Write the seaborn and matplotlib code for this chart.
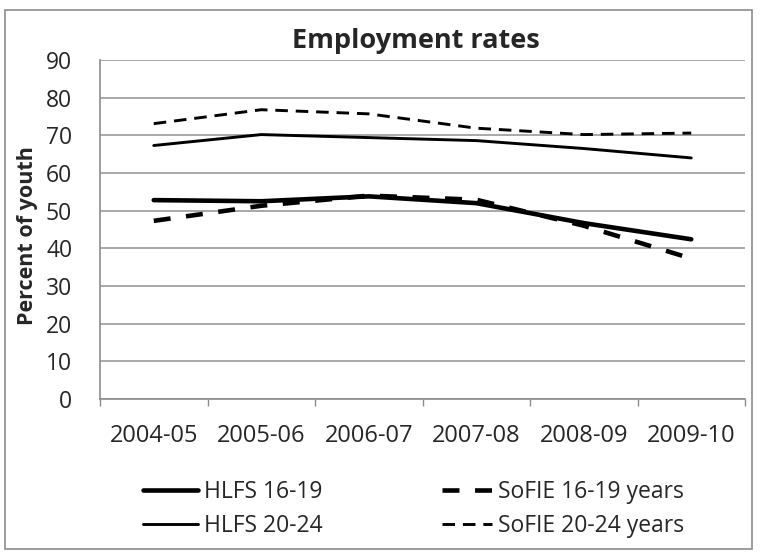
import matplotlib
matplotlib.use("Agg")
import matplotlib.pyplot as plt
import seaborn as sns
import numpy as np
from matplotlib.patches import Rectangle
from matplotlib.ticker import FixedLocator

categories = ["2004-05", "2005-06", "2006-07", "2007-08", "2008-09", "2009-10"]
hlfs_16_19 = [52.8, 52.5, 53.8, 52.0, 46.7, 42.4]
sofie_16_19 = [47.3, 51.3, 54.0, 52.9, 46.0, 37.3]
hlfs_20_24 = [67.3, 70.2, 69.4, 68.6, 66.5, 64.0]
sofie_20_24 = [73.1, 76.8, 75.7, 71.9, 70.2, 70.6]
y_ticks = [0, 10, 20, 30, 40, 50, 60, 70, 80, 90]

sns.set_theme(style="white")
plt.rcParams['font.family'] = ['Open Sans', 'DejaVu Sans']

W, H = 760, 553
fig = plt.figure(figsize=(W / 100, H / 100), dpi=100)
ax = fig.add_axes([100 / W, 1 - 399 / H, 645 / W, 339 / H])

x = np.arange(len(categories))
series = [
    ("HLFS 16-19", hlfs_16_19, 3.3, "-"),
    ("HLFS 20-24", hlfs_20_24, 2.1, "-"),
    ("SoFIE 16-19 years", sofie_16_19, 3.3, (0, (3.7, 3.4))),
    ("SoFIE 20-24 years", sofie_20_24, 2.1, (0, (4.3, 2.7))),
]
for label, vals, lw, ls in series:
    sns.lineplot(x=x, y=vals, ax=ax, color="black", linewidth=lw,
                 linestyle=ls, label=label)

ax.set_xlim(-0.5, len(categories) - 0.5)
ax.set_ylim(0, 90)
ax.set_yticks(y_ticks)
ax.set_yticklabels([str(t) for t in y_ticks], fontsize=16.5)
ax.set_xticks(x)
ax.set_xticklabels(categories, fontsize=17)
ax.xaxis.set_minor_locator(FixedLocator(np.arange(-0.5, len(categories), 1.0)))
ax.tick_params(axis="x", which="major", length=0, pad=18)
ax.tick_params(axis="x", which="minor", length=5, color="#8c8c8c", width=1, bottom=True)
ax.tick_params(axis="y", which="major", length=0, pad=20)
ax.yaxis.grid(True, color="#9a9a9a", linewidth=1.2)
ax.set_axisbelow(True)
for s in ["top", "right"]:
    ax.spines[s].set_visible(False)
for s in ["left", "bottom"]:
    ax.spines[s].set_color("#8c8c8c")
    ax.spines[s].set_linewidth(1.2)

ax.set_ylabel("")
ax.set_xlabel("")
fig.text(28 / W, 1 - 236 / H, "Percent of youth", rotation=90, ha="center",
         va="center", fontsize=15.5, fontweight="bold")
fig.text(416 / W, 1 - 41 / H, "Employment rates", ha="center", va="center",
         fontsize=19.5, fontweight="bold")

handles, labels = ax.get_legend_handles_labels()
ax.get_legend().remove()
common = dict(frameon=False, fontsize=16.5, borderpad=0, borderaxespad=0,
              handletextpad=0.26, labelspacing=0.47, loc="center left",
              bbox_transform=fig.transFigure)
leg1 = fig.legend(handles[:2], labels[:2], bbox_to_anchor=(143 / W, 1 - 509 / H),
                  handlelength=2.4, **common)
leg2 = fig.legend(handles[2:], labels[2:], bbox_to_anchor=(442 / W, 1 - 509 / H),
                  handlelength=2.2, **common)

fig.patches.append(Rectangle((5 / W, 4 / H), 747 / W, 539 / H,
                             transform=fig.transFigure, fill=False,
                             edgecolor="#8c8c8c", linewidth=1.2))

fig.savefig("out.png", dpi=100)
